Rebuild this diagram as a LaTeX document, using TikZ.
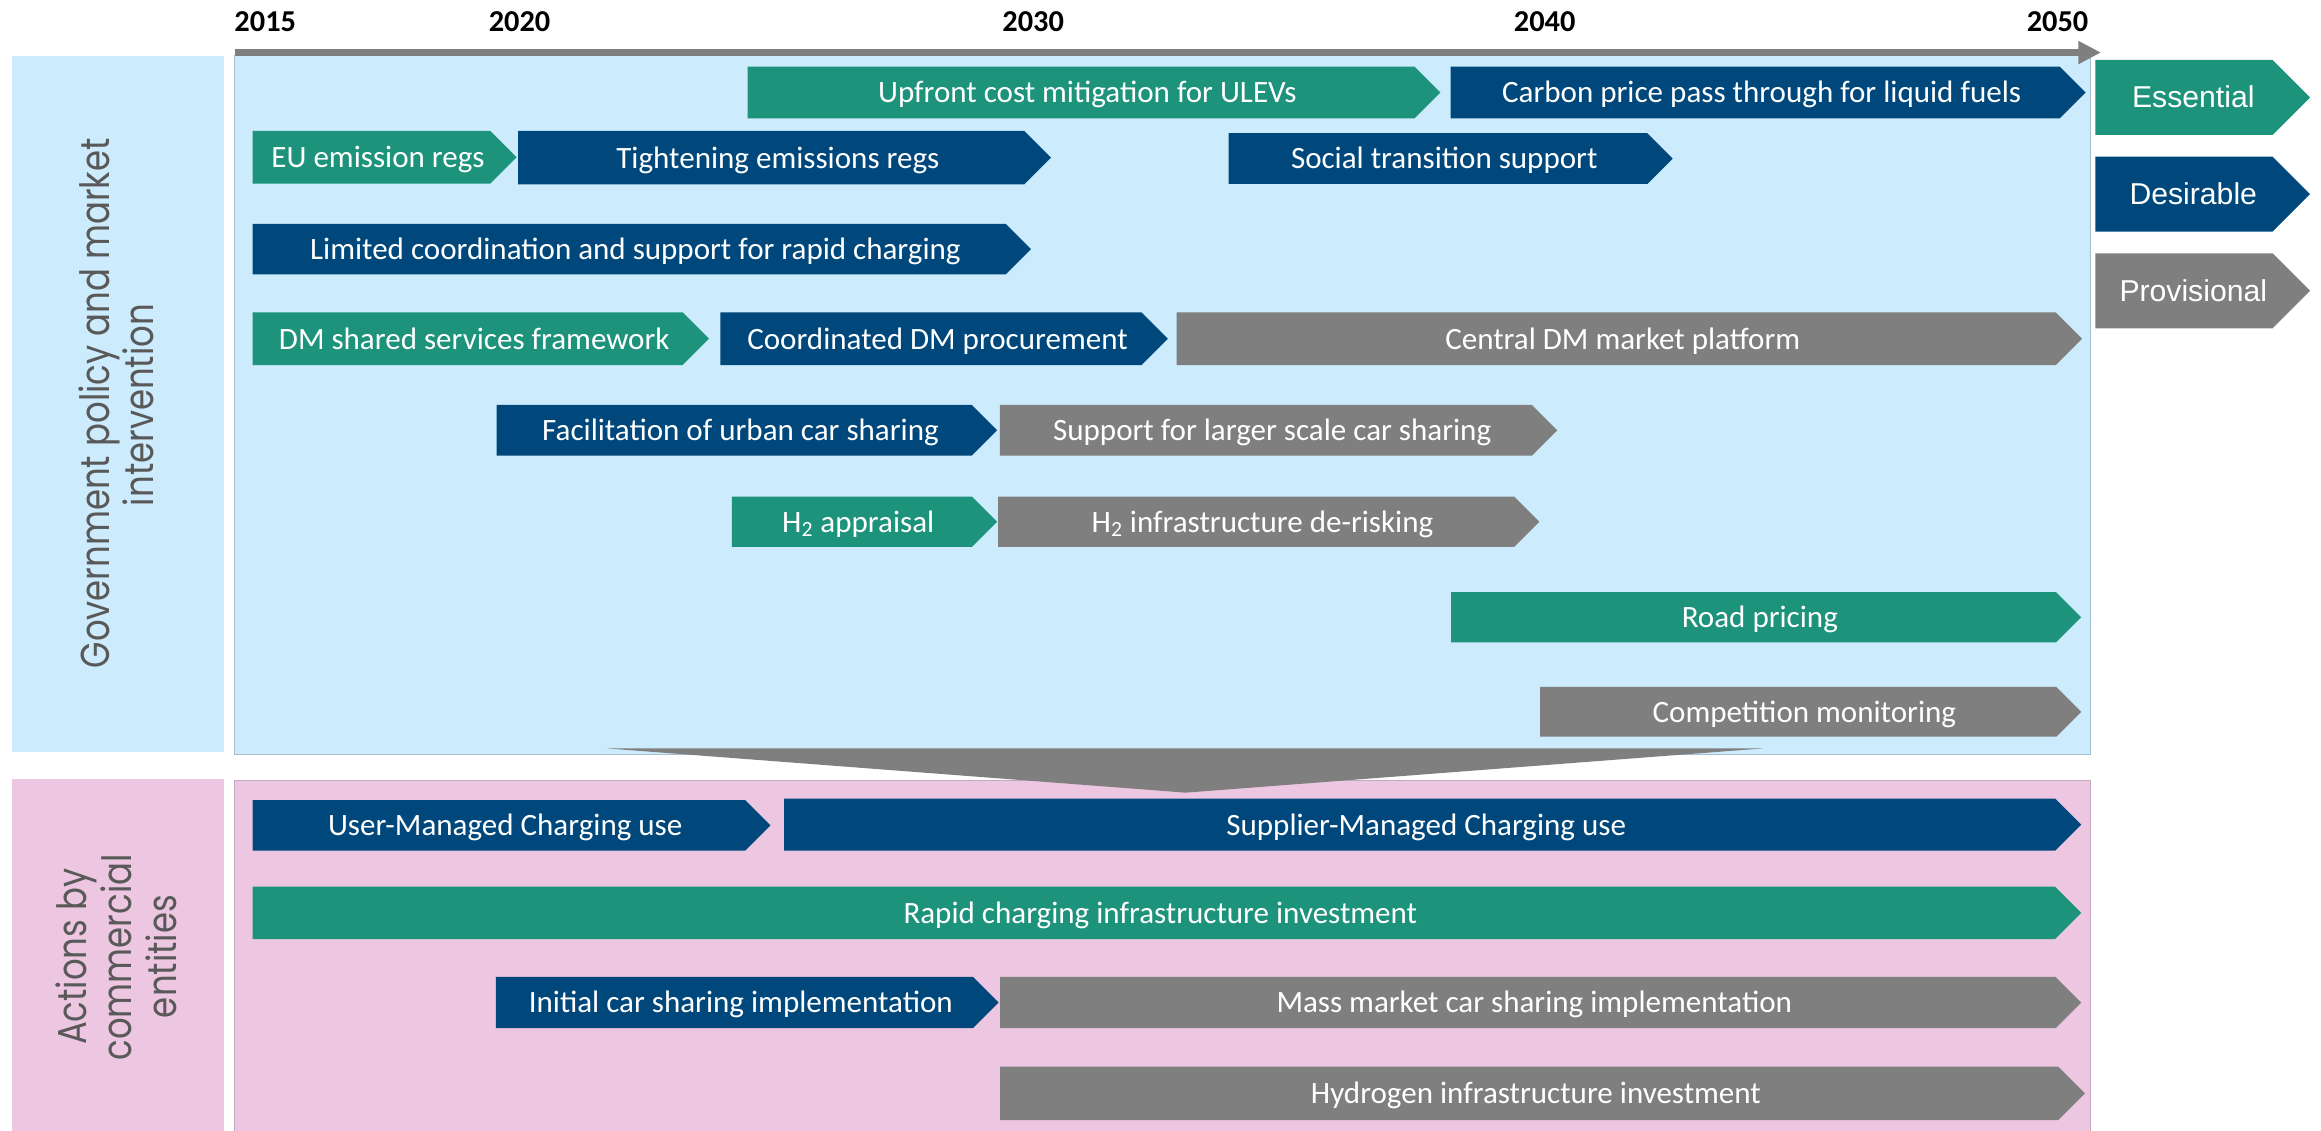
\documentclass[tikz,border=0pt]{standalone}
\usepackage{fontspec}
\setmainfont{Carlito}
\newfontfamily\legendfont{Liberation Sans}
\newfontfamily\sidefont[FakeStretch=0.84]{Poppins}
\usetikzlibrary{arrows.meta}

\definecolor{ess}{RGB}{29,147,123}
\definecolor{des}{RGB}{0,72,124}
\definecolor{prov}{RGB}{127,127,127}
\definecolor{govbg}{RGB}{204,235,252}
\definecolor{combg}{RGB}{237,199,225}
\definecolor{govline}{RGB}{165,190,210}
\definecolor{comline}{RGB}{195,170,190}
\definecolor{sidetext}{RGB}{89,89,89}

\tikzset{
  bartext/.style={text=white, font=\fontsize{17.9}{21}\selectfont, anchor=base, inner sep=0pt},
  legtext/.style={text=white, font=\legendfont\fontsize{17.4}{21}\selectfont, anchor=base, inner sep=0pt},
  yeartext/.style={font=\fontsize{17.5}{21}\selectfont\bfseries, anchor=base, inner sep=0pt},
  sidelabel/.style={text=sidetext, font=\sidefont\fontsize{23.3}{25.6}\selectfont, anchor=base, rotate=90, inner sep=0pt},
  panelgov/.style={fill=govbg, draw=govline, line width=0.6pt},
  panelcom/.style={fill=combg, draw=comline, line width=0.6pt},
  timeaxis/.style={draw=prov, line width=4.5*0.03cm, -{Triangle[length=0.46cm, width=0.44cm]}},
}

% pentagon arrow bar: [text style]{name}{left}{tip x}{top}{bottom}{colour}{label}
\newcommand{\tlbar}[8][bartext]{%
  \pgfmathsetmacro\tlhh{(#6-#5)/2}%
  \fill[#7] (#3,#5) -- ({#4-\tlhh},#5) -- (#4,{(#5+#6)/2}) -- ({#4-\tlhh},#6) -- (#3,#6) -- cycle;
  \node[#1] (#2) at ({(#3+#4)/2-\tlhh/4},{(#5+#6)/2+7}) {#8};
}

\begin{document}
\begin{tikzpicture}[x=0.03cm, y=-0.03cm]
\useasboundingbox (0,0) rectangle (1568,764);

% side label panels
\fill[govbg] (7.8,37.8) rectangle (151.5,507.8);
\fill[combg] (7.8,526.3) rectangle (151.5,770);

% main panels
\draw[panelgov] (158.6,37.8) rectangle (1412.4,510);
\draw[panelcom] (158.7,527.4) rectangle (1412.4,770);

% time axis
\coordinate (axisL) at (158.6,35.5);
\coordinate (axisR) at (1419.4,35.5);
\draw[timeaxis] (axisL) -- (axisR);

\node[yeartext] (y2015) at (179.2,21.4) {2015};
\node[yeartext] (y2020) at (351,21.4) {2020};
\node[yeartext] (y2030) at (698,21.4) {2030};
\node[yeartext] (y2040) at (1043.5,21.4) {2040};
\node[yeartext] (y2050) at (1390,21.4) {2050};

% government policy and market intervention
\tlbar{upfront}{505}{973}{45}{80}{ess}{Upfront cost mitigation for ULEVs}
\tlbar{carbon}{980}{1409}{45}{80}{des}{Carbon price pass through for liquid fuels}
\tlbar{euregs}{170.6}{349}{88.5}{124}{ess}{EU emission regs}
\tlbar{tighten}{350}{710}{88.5}{124.5}{des}{Tightening emissions regs}
\tlbar{social}{830}{1130}{90}{124.3}{des}{Social transition support}
\tlbar{rapidsup}{170.6}{696.5}{151.3}{185.3}{des}{Limited coordination and support for rapid charging}
\tlbar{dmshared}{170.6}{479}{211}{246.6}{ess}{DM shared services framework}
\tlbar{dmproc}{486.6}{789}{211}{246.6}{des}{Coordinated DM procurement}
\tlbar{dmplat}{794.8}{1406.6}{211}{246.6}{prov}{Central DM market platform}
\tlbar{urbancs}{335.5}{673.6}{273.6}{307.8}{des}{Facilitation of urban car sharing}
\tlbar{largecs}{675.4}{1052}{273.6}{307.8}{prov}{Support for larger scale car sharing}
\tlbar{htwoapp}{494.5}{673.6}{335.5}{369.5}{ess}{H\textsubscript{2} appraisal}
\tlbar{htworisk}{674.3}{1040}{335.5}{369.5}{prov}{H\textsubscript{2} infrastructure de-risking}
\tlbar{road}{980.3}{1406}{400}{434}{ess}{Road pricing}
\tlbar{compet}{1040.4}{1406}{464}{497.7}{prov}{Competition monitoring}

% actions by commercial entities
\tlbar{usermc}{170.6}{520.5}{540.5}{574.7}{des}{User-Managed Charging use}
\tlbar{suppmc}{529.8}{1406}{539.5}{574.7}{des}{Supplier-Managed Charging use}
\tlbar{rapidinv}{170.6}{1406}{599}{634.4}{ess}{Rapid charging infrastructure investment}
\tlbar{initcs}{335}{674.6}{660}{694.6}{des}{Initial car sharing implementation}
\tlbar{masscs}{675.6}{1406}{660}{694.6}{prov}{Mass market car sharing implementation}
\tlbar{hydinv}{675.6}{1408.6}{720.6}{756.7}{prov}{Hydrogen infrastructure investment}

% funnel from policy to actions
\fill[prov] (410,505.6) -- (1191,505.6) -- (801,535.5) -- cycle;

% key
\tlbar[legtext]{kess}{1415.5}{1560.6}{40.5}{91.2}{ess}{Essential}
\tlbar[legtext]{kdes}{1415.5}{1560.6}{105.8}{156.5}{des}{Desirable}
\tlbar[legtext]{kprov}{1415.5}{1560.6}{171.1}{221.8}{prov}{Provisional}

% row group labels
\node[sidelabel] (govA) at (73.9,272.5) {Government policy and market};
\node[sidelabel] (govB) at (104,273.6) {intervention};
\node[sidelabel] (comA) at (58.6,646.3) {Actions by};
\node[sidelabel] (comB) at (89,646.8) {commercial};
\node[sidelabel] (comC) at (119.4,646.2) {entities};
\end{tikzpicture}
\end{document}
